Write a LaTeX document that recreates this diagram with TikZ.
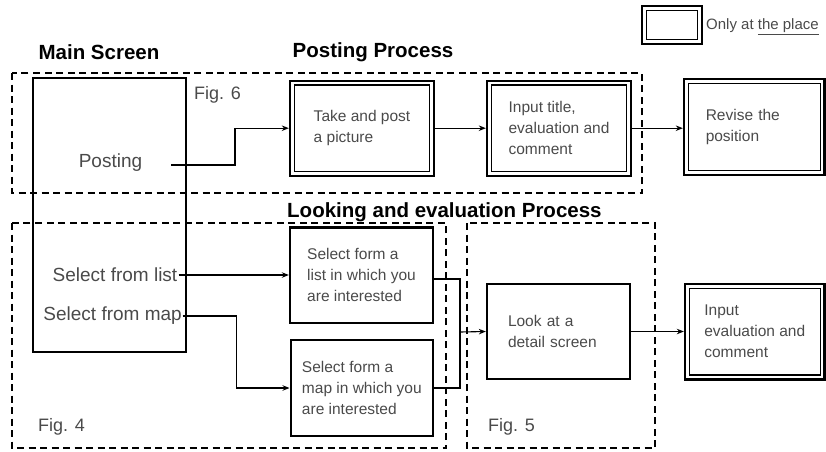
\documentclass[tikz,border=0pt]{standalone}
\usepackage{fontspec}
\setmainfont{Liberation Sans}
\usetikzlibrary{arrows.meta}
\definecolor{txt}{HTML}{4A4A4A}
\newcommand\bxfont{\fontsize{15.5}{21}\selectfont}
\newcommand\lblfont{\fontsize{19}{23}\selectfont}
\newcommand\figfont{\fontsize{18}{22}\selectfont}
\newcommand\ttlfont{\fontsize{20.5}{24}\selectfont\bfseries}
\newcommand\legfont{\fontsize{15}{18}\selectfont}
\begin{document}
\begin{tikzpicture}[x=1pt,y=-1pt,
  box/.style={draw, line width=2.4pt, align=left, font=\bxfont, text=txt, inner sep=0pt},
  mainbox/.style={draw, line width=2.4pt, inner sep=0pt},
  innerline/.style={line width=1.2pt},
  grp/.style={line width=2.6pt, dash pattern=on 7pt off 4.5pt},
  lbl/.style={font=\lblfont, text=txt, inner sep=1pt},
  figlbl/.style={font=\figfont, text=txt, inner sep=0pt, anchor=west},
  ttl/.style={font=\ttlfont, text=black, inner sep=0pt},
  conn/.style={line width=1.1pt},
  arr/.style={line width=1.1pt, -{Stealth[length=7pt,width=5.5pt]}}]
\useasboundingbox (0,0) rectangle (826,451);

% legend
\node[mainbox, minimum width=60pt, minimum height=38pt] (leg) at (672,25) {};
\node[font=\legfont, text=txt, anchor=west, inner sep=0pt] (legt) at (706,27) {Only at \underline{the place}};

% titles
\node[ttl] (tmain) at (99,52) {Main Screen};
\node[ttl] (tpost) at (373,52) {Posting Process};
\node[ttl, anchor=west] (tlook) at (287,212) {Looking and evaluation Process};

% dashed group frames
\draw[grp] (12,73) rectangle (642,193);
\draw[grp] (12,223) rectangle (446,448);
\draw[grp] (467,223) rectangle (655,448);

% main screen
\node[mainbox, minimum width=153pt, minimum height=274pt] (main) at (109.5,215) {};
\node[lbl] (postl) at (110.5,163) {Posting};
\node[lbl, anchor=east] (lstl) at (178.5,275) {Select from list};
\node[lbl, anchor=east, inner sep=0.5pt] (mapl) at (182.5,316) {Select from map};
\node[figlbl] (fig6) at (194,95) {Fig. 6};
\node[figlbl] (fig4) at (38,427) {Fig. 4};
\node[figlbl] (fig5) at (488,427) {Fig. 5};

% posting process
\node[box, minimum width=144pt, minimum height=95pt] (tp) at (362,128.2) {Take and post\\a picture};
\node[box, minimum width=144pt, minimum height=95pt] (it) at (559,128.2) {Input title,\\evaluation and\\comment};
\node[box, minimum width=140.5pt, minimum height=96pt, text width=97pt, inner xsep=21.5pt] (rv) at (754.25,127) {Revise the\\position};

% looking and evaluation process
\node[box, minimum width=143pt, minimum height=95.4pt] (sl) at (361.5,275) {Select form a\\list in which you\\are interested};
\node[box, minimum width=142.3pt, minimum height=96pt] (sm) at (361.85,388) {Select form a\\map in which you\\are interested};
\node[box, minimum width=143pt, minimum height=95pt, text width=101pt, inner xsep=21pt] (det) at (558.5,331.5) {Look at a\\detail screen};
\node[box, minimum width=139.5pt, minimum height=95.3pt] (ie) at (754.75,331.7) {Input\\evaluation and\\comment};

% inner lines of the double boxes
\foreach \n in {leg,tp,it,rv,ie}
  \draw[innerline] ([xshift=5.5pt,yshift=-5.5pt]\n.north west) rectangle ([xshift=-5.5pt,yshift=5.5pt]\n.south east);

% connectors
\coordinate (postout) at (171,165);
\draw[arr] (postout) -- ++(64,0) |- (tp.west);
\draw[arr] (tp.east) -- (it.west);
\draw[arr] (it.east) -- (it.east -| rv.west);
\draw[arr] (lstl.east) -- (sl.west);
\draw[arr] (mapl.east) -- ++(54,0) |- (sm.west);
\coordinate (jn) at (460,332);
\draw[conn] ([yshift=-4pt]sl.east) -| (jn);
\draw[conn] (sm.east) -| (jn);
\draw[arr] (jn) -- (det.west);
\draw[arr] (det.east) -- (det.east -| ie.west);
\end{tikzpicture}
\end{document}
